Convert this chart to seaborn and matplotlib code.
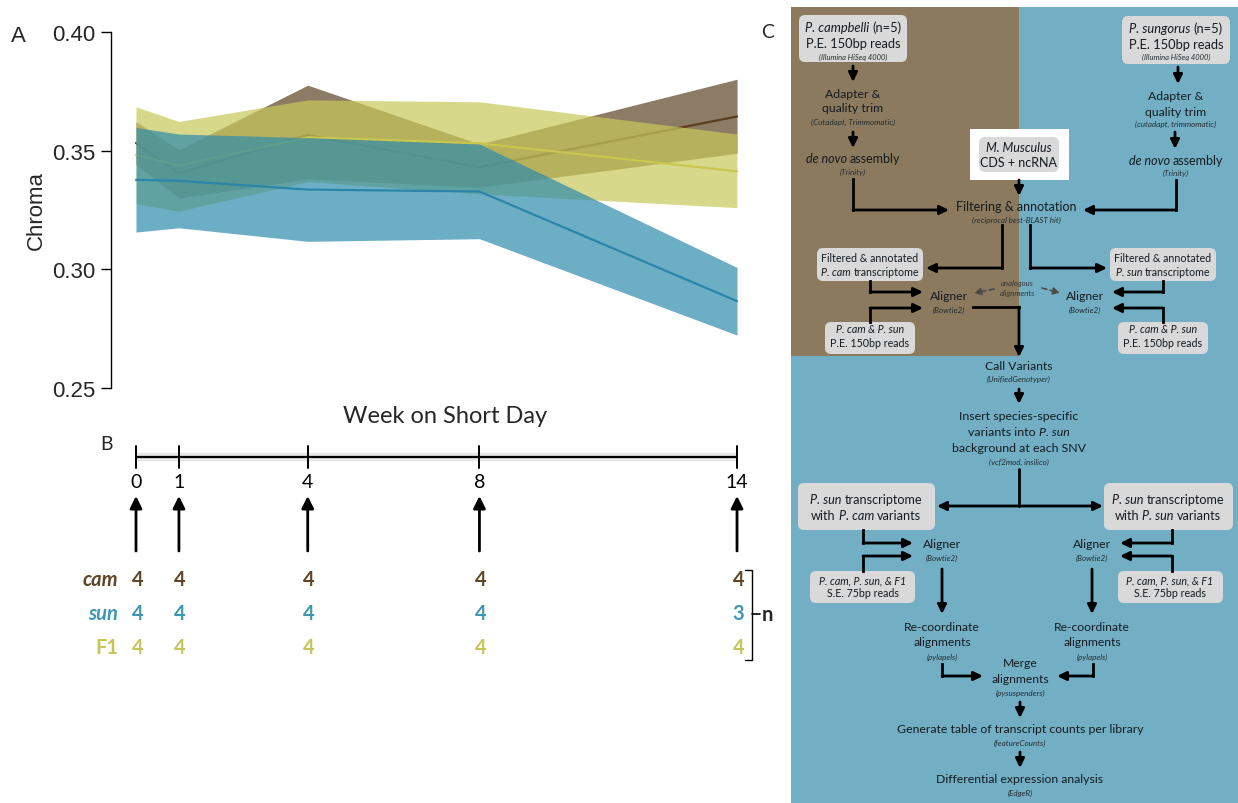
import numpy as np
import pandas as pd
import matplotlib
matplotlib.use("Agg")
import matplotlib.pyplot as plt
import seaborn as sns
from matplotlib.patches import FancyBboxPatch, Rectangle

# ---------------- data ----------------
weeks = [0, 1, 4, 8, 14]
cam_mean = [0.3532, 0.3405, 0.3566, 0.3430, 0.3644]
cam_hi = [0.3622, 0.3504, 0.3776, 0.3528, 0.3801]
cam_lo = [0.3442, 0.3300, 0.3381, 0.3346, 0.3489]
sun_mean = [0.3377, 0.3373, 0.3336, 0.3328, 0.2866]
sun_hi = [0.3598, 0.3570, 0.3555, 0.3528, 0.3008]
sun_lo = [0.3157, 0.3175, 0.3118, 0.3129, 0.2723]
f1_mean = [0.3482, 0.3437, 0.3556, 0.3531, 0.3413]
f1_hi = [0.3685, 0.3623, 0.3714, 0.3706, 0.3570]
f1_lo = [0.3276, 0.3245, 0.3370, 0.3318, 0.3260]
yticks = [0.25, 0.30, 0.35, 0.40]

n_cam = [4, 4, 4, 4, 4]
n_sun = [4, 4, 4, 4, 3]
n_f1 = [4, 4, 4, 4, 4]
group_names = ["cam", "sun", "F1"]

sns.set_style("white")
plt.rcParams['font.family'] = ['Lato', 'DejaVu Sans']

W, H = 1238, 804
fig = plt.figure(figsize=(W / 100, H / 100), dpi=100)

C_CAM_FILL, C_CAM_LINE, C_CAM_TXT = '#5C4424', '#5a3f1e', '#5E4626'
C_SUN_FILL, C_SUN_LINE, C_SUN_TXT = '#2E8CAB', '#2a86a8', '#3C96B4'
C_F1_FILL, C_F1_LINE, C_F1_TXT = '#C8C85A', '#c9c84d', '#C6C55A'

# ---------------- panel A ----------------
ax_left, ax_right, ax_top, ax_bot = 111, 760, 33, 389
px_per_week = 42.93
x0_px = 136
xlim = ((ax_left - x0_px) / px_per_week, (ax_right - x0_px) / px_per_week)
axA = fig.add_axes([ax_left / W, 1 - ax_bot / H, (ax_right - ax_left) / W, (ax_bot - ax_top) / H])
axA.set_facecolor('none')

series = [
    ("cam", cam_mean, cam_lo, cam_hi, C_CAM_FILL, C_CAM_LINE),
    ("F1", f1_mean, f1_lo, f1_hi, C_F1_FILL, C_F1_LINE),
    ("sun", sun_mean, sun_lo, sun_hi, C_SUN_FILL, C_SUN_LINE),
]
z = 1
for name, m, lo, hi, fc, lc in series:
    axA.fill_between(weeks, lo, hi, color=fc, alpha=0.7, lw=0, zorder=z)
    df = pd.DataFrame({"week": weeks, "chroma": m})
    sns.lineplot(data=df, x="week", y="chroma", color=lc, lw=1.6, ax=axA, zorder=z + 0.5)
    z += 1

axA.set_xlim(*xlim)
axA.set_ylim(0.25, 0.40)
axA.set_yticks(yticks)
axA.set_yticklabels([f"{v:.2f}" for v in yticks], family='Liberation Sans', fontsize=16)
axA.set_xticks([])
axA.set_xlabel("")
axA.set_ylabel("Chroma", family='Liberation Sans', fontsize=16)
axA.yaxis.set_label_coords(-0.099, 0.5)
sns.despine(ax=axA, bottom=True)
axA.spines['left'].set_color('black')
axA.spines['left'].set_linewidth(1.0)
axA.spines['left'].set_zorder(10)
axA.tick_params(axis='y', left=True, length=7, width=1, direction='out', color='black', pad=4)

# ---------------- panel B ----------------
b_top, b_bot = 430, 670
axB = fig.add_axes([ax_left / W, 1 - b_bot / H, (ax_right - ax_left) / W, (b_bot - b_top) / H])
axB.set_xlim(*xlim)
axB.set_ylim(b_bot, b_top)
axB.axis('off')
axB.plot([weeks[0], weeks[-1]], [458, 458], color='#e6e6e6', lw=6, solid_capstyle='butt')
axB.plot([weeks[0], weeks[-1]], [458, 458], color='black', lw=1.6, solid_capstyle='butt')
for w in weeks:
    axB.plot([w, w], [447, 469], color='black', lw=1.4)
    axB.text(w, 482, str(w), ha='center', va='center', fontsize=14, color='black')
    axB.annotate('', xy=(w, 497), xytext=(w, 552),
                 arrowprops=dict(arrowstyle='-|>,head_length=0.6,head_width=0.3', lw=2,
                                 color='black', shrinkA=0, shrinkB=0, mutation_scale=12))
rows = [(n_cam, C_CAM_TXT, 'italic', 580), (n_sun, C_SUN_TXT, 'italic', 614), (n_f1, C_F1_TXT, 'normal', 648)]
for name, (ns, col, sty, yy) in zip(group_names, rows):
    axB.text(-0.42, yy, name, ha='right', va='center', fontsize=14.5, fontweight='bold',
             fontstyle=sty, color=col)
    for w, n in zip(weeks, ns):
        axB.text(w + 0.03, yy, str(n), ha='center', va='center', fontsize=14.5,
                 fontweight='bold', color=col)

# ---------------- overlay (labels + panel C) ----------------
ov = fig.add_axes([0, 0, 1, 1], zorder=5)
ov.set_xlim(0, W)
ov.set_ylim(H, 0)
ov.axis('off')
ov.patch.set_alpha(0)
renderer = fig.canvas.get_renderer()

ov.text(18, 37, "A", fontsize=16, family='Liberation Sans', ha='center', va='center')
ov.text(107, 445, "B", fontsize=14, ha='center', va='center')
ov.text(768, 33, "C", fontsize=14, ha='center', va='center')
ov.text(445, 417, "Week on Short Day", fontsize=17, ha='center', va='center')

# bracket
ov.plot([745, 752, 752, 745], [571, 571, 661, 661], color='black', lw=1.0)
ov.plot([752, 760], [615, 615], color='black', lw=1.2)
ov.text(762, 615, "n", fontsize=14.5, fontweight='bold', ha='left', va='center')

# panel C backgrounds
ov.add_patch(Rectangle((791, 8), W - 791, H - 8, fc='#72AFC4', ec='none'))
ov.add_patch(Rectangle((791, 8), 1019 - 791, 357 - 8, fc='#8B7A5E', ec='none'))
ov.add_patch(Rectangle((970, 130), 1069 - 970, 181 - 130, fc='white', ec='none'))

TXT = '#141b20'
SMALL = '#232c31'


def box(x0, y0, x1, y1, r=6):
    ov.add_patch(FancyBboxPatch((x0 + r, y0 + r), x1 - x0 - 2 * r, y1 - y0 - 2 * r,
                                boxstyle=f"round,pad={r}", fc='#D9D9D9', ec='none'))


def _w(t):
    return t.get_window_extent(renderer=renderer).width


def T(x, y, segs, size=8.8, color=TXT):
    """segs: str (regular) or list of (text, italic) joined by single spaces."""
    if isinstance(segs, str):
        segs = [(segs, False)]
    objs = [ov.text(0, y, s, fontsize=size, ha='left', va='center', color=color,
                    fontstyle='italic' if it else 'normal') for s, it in segs]
    probe1 = ov.text(0, 0, "x x", fontsize=size)
    probe2 = ov.text(0, 0, "xx", fontsize=size)
    gap = _w(probe1) - _w(probe2)
    probe1.remove()
    probe2.remove()
    widths = [_w(o) for o in objs]
    total = sum(widths) + gap * (len(objs) - 1)
    cx = x - total / 2
    for o, wd in zip(objs, widths):
        o.set_position((cx, y))
        cx += wd + gap


def S(x, y, s, size=5.8, color=SMALL):
    ov.text(x, y, s, fontsize=size, ha='center', va='center', color=color, fontstyle='italic')


AP = dict(arrowstyle='-|>,head_length=0.45,head_width=0.22', lw=2.0, color='black',
          shrinkA=0, shrinkB=0, mutation_scale=12)


def arrow(pts):
    xs, ys = zip(*pts)
    if len(pts) > 2:
        ov.plot(xs[:-1], ys[:-1], color='black', lw=2.0, solid_capstyle='projecting',
                solid_joinstyle='miter')
    ov.annotate('', xy=pts[-1], xytext=pts[-2], arrowprops=AP)


# left column
box(799, 16, 907, 63)
T(853, 28, [("P. campbelli", True), ("(n=5)", False)], 9.3)
T(853, 44, "P.E. 150bp reads", 9.3)
S(853, 57, "(Illumina HiSeq 4000)", 5.4)
arrow([(853, 67), (853, 83)])
T(853, 94, "Adapter &")
T(853, 109, "quality trim")
S(853, 122, "(Cutadapt, Trimmomatic)")
arrow([(853, 133), (853, 149)])
T(853, 159, [("de novo", True), ("assembly", False)], 9.0)
S(853, 172, "(Trinity)")
arrow([(853, 180), (853, 211), (949, 211)])

# right column
box(1122, 17, 1230, 65)
T(1176, 29, [("P. sungorus", True), ("(n=5)", False)], 9.3)
T(1176, 45, "P.E. 150bp reads", 9.3)
S(1176, 57, "(Illumina HiSeq 4000)", 5.4)
arrow([(1178, 68), (1178, 85)])
T(1176, 96, "Adapter &")
T(1176, 112, "quality trim")
S(1176, 124, "(cutadapt, trimmomatic)")
arrow([(1175, 133), (1175, 150)])
T(1176, 161, [("de novo", True), ("assembly", False)], 9.0)
S(1176, 173, "(Trinity)")
arrow([(1176, 181), (1176, 211), (1083, 211)])

# centre
box(979, 138, 1059, 173)
T(1019, 148, [("M. Musculus", True)], 9.0)
T(1019, 163, "CDS + ncRNA", 9.0)
arrow([(1019, 181), (1019, 197)])
T(1016, 207, "Filtering & annotation", 9.0)
S(1016, 220, "(reciprocal best-BLAST hit)")
arrow([(1002, 226), (1002, 269), (926, 269)])
arrow([(1030, 226), (1030, 269), (1107, 269)])

box(817, 249, 923, 282)
T(870, 259, "Filtered & annotated", 7.7)
T(870, 273, [("P. cam", True), ("transcriptome", False)], 7.7)
box(1110, 249, 1216, 282)
T(1163, 259, "Filtered & annotated", 7.7)
T(1163, 273, [("P. sun", True), ("transcriptome", False)], 7.7)

T(949, 297, "Aligner", 8.8)
S(949, 310, "(Bowtie2)")
arrow([(870, 282), (870, 293), (923, 293)])
arrow([(870, 323), (870, 309), (923, 309)])
box(825, 323, 915, 355)
T(870, 330, [("P. cam & P. sun", True)], 7.7)
T(870, 344, "P.E. 150bp reads", 7.7)

T(1085, 297, "Aligner", 8.8)
S(1085, 310, "(Bowtie2)")
arrow([(1163, 282), (1163, 293), (1112, 293)])
arrow([(1163, 323), (1163, 309), (1112, 309)])
box(1118, 323, 1208, 355)
T(1163, 330, [("P. cam & P. sun", True)], 7.7)
T(1163, 344, "P.E. 150bp reads", 7.7)

S(1017, 284, "analogous", 5.6, '#333333')
S(1017, 294, "alignments", 5.6, '#333333')
DP = dict(arrowstyle='-|>,head_length=0.4,head_width=0.2', lw=1.2, color='#4a4a4a',
          ls=(0, (3, 2)), shrinkA=0, shrinkB=0, mutation_scale=10)
ov.annotate('', xy=(974, 294), xytext=(994, 290), arrowprops=DP)
ov.annotate('', xy=(1060, 294), xytext=(1042, 289), arrowprops=DP)

arrow([(973, 308), (1019, 308), (1019, 358)])
T(1019, 367, "Call Variants", 8.7)
S(1019, 379, "(UnifiedGenotyper)")
arrow([(1019, 390), (1019, 405)])
T(1019, 417, "Insert species-specific", 8.9)
T(1019, 433, [("variants into", False), ("P. sun", True)], 8.9)
T(1019, 449, "background at each SNV", 8.9)
S(1019, 462, "(vcf2mod, insilico)")

ov.plot([1019, 1019], [470, 507], color='black', lw=2.0)
arrow([(1019, 507), (937, 507)])
arrow([(1019, 507), (1103, 507)])

box(798, 484, 935, 531)
T(866, 500, [("P. sun", True), ("transcriptome", False)], 9.1)
T(866, 516, [("with", False), ("P. cam", True), ("variants", False)], 9.1)
box(1104, 484, 1233, 531)
T(1168, 500, [("P. sun", True), ("transcriptome", False)], 9.1)
T(1168, 516, [("with", False), ("P. sun", True), ("variants", False)], 9.1)

T(942, 545, "Aligner", 8.8)
S(942, 558, "(Bowtie2)")
arrow([(863, 531), (863, 544), (913, 544)])
arrow([(863, 572), (863, 557), (913, 557)])
box(810, 572, 915, 604)
T(863, 581, [("P. cam, P. sun, & F1", True)], 7.7)
T(863, 594, "S.E. 75bp reads", 7.7)
arrow([(942, 570), (942, 615)])
T(942, 628, "Re-coordinate", 8.7)
T(942, 643, "alignments", 8.7)
S(942, 657, "(pylapels)")

T(1092, 545, "Aligner", 8.8)
S(1092, 558, "(Bowtie2)")
arrow([(1172, 531), (1172, 544), (1120, 544)])
arrow([(1172, 572), (1172, 557), (1120, 557)])
box(1118, 572, 1223, 604)
T(1170, 581, [("P. cam, P. sun, & F1", True)], 7.7)
T(1170, 594, "S.E. 75bp reads", 7.7)
arrow([(1092, 570), (1092, 615)])
T(1092, 628, "Re-coordinate", 8.7)
T(1092, 643, "alignments", 8.7)
S(1092, 657, "(pylapels)")

arrow([(942, 665), (942, 677), (983, 677)])
arrow([(1093, 665), (1093, 677), (1057, 677)])
T(1020, 664, "Merge", 8.7)
T(1020, 680, "alignments", 8.7)
S(1020, 693, "(pysuspenders)")
arrow([(1020, 703), (1020, 719)])
T(1020, 730, "Generate table of transcript counts per library", 8.85)
S(1020, 743, "(featureCounts)")
arrow([(1020, 753), (1020, 769)])
T(1020, 780, "Differential expression analysis", 8.85)
S(1020, 793, "(EdgeR)")

fig.savefig("out.png", dpi=100)
